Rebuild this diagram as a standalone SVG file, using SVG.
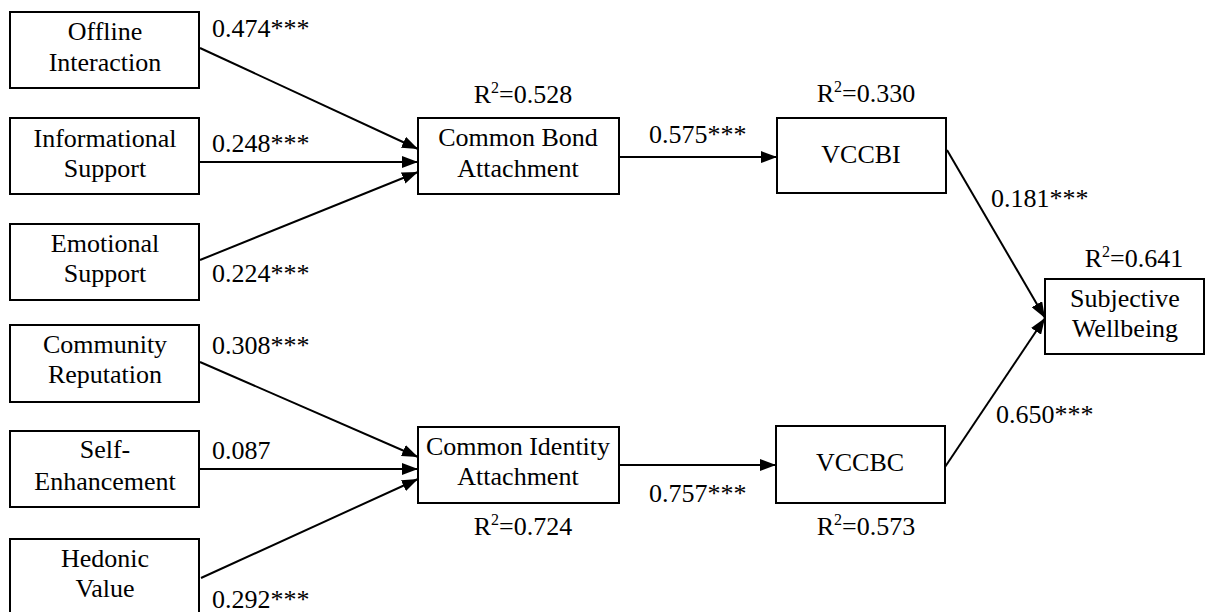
<svg xmlns="http://www.w3.org/2000/svg" width="1206" height="612" viewBox="0 0 1206 612">
<style>
text{font-family:"Liberation Serif","Times New Roman",serif;font-size:26px;fill:#000}
.c{text-anchor:middle}
.sup{font-size:16px}
rect{fill:#fff;stroke:#000;stroke-width:2}
.e{stroke:#000;stroke-width:2;fill:none;marker-end:url(#ah)}
</style>
<defs>
<marker id="ah" viewBox="0 0 16 12" refX="16" refY="6" markerWidth="16" markerHeight="12" markerUnits="userSpaceOnUse" orient="auto">
<path d="M0,0 L16,6 L0,12 Z" fill="#000"/>
</marker>
</defs>
<rect x="0" y="0" width="1206" height="612" style="stroke:none"/>
<g id="connectors">
<line class="e" x1="200" y1="48" x2="418" y2="149"/>
<line class="e" x1="199" y1="162" x2="418" y2="162"/>
<line class="e" x1="200" y1="260" x2="418" y2="172"/>
<line class="e" x1="200" y1="362" x2="418" y2="457"/>
<line class="e" x1="199" y1="469" x2="418" y2="469"/>
<line class="e" x1="201" y1="578" x2="418" y2="479"/>
<line class="e" x1="619" y1="157" x2="777" y2="157"/>
<line class="e" x1="619" y1="465" x2="776" y2="465"/>
<line class="e" x1="947" y1="150" x2="1045" y2="318"/>
<line class="e" x1="945" y1="467" x2="1045" y2="318"/>
<text x="212" y="37">0.474***</text>
<text x="212" y="152">0.248***</text>
<text x="212" y="282">0.224***</text>
<text x="212" y="354">0.308***</text>
<text x="212" y="459">0.087</text>
<text x="212" y="608">0.292***</text>
<text x="649" y="143">0.575***</text>
<text x="649" y="502">0.757***</text>
<text x="991" y="207">0.181***</text>
<text x="996" y="423">0.650***</text>
</g>
<g id="offline">
<rect x="10" y="12" width="189" height="76"/>
<text class="c" x="105" y="40">Offline</text>
<text class="c" x="105" y="71">Interaction</text>
</g>
<g id="informational">
<rect x="10" y="118" width="189" height="76"/>
<text class="c" x="105" y="147">Informational</text>
<text class="c" x="105" y="177">Support</text>
</g>
<g id="emotional">
<rect x="10" y="224" width="189" height="76"/>
<text class="c" x="105" y="252">Emotional</text>
<text class="c" x="105" y="282">Support</text>
</g>
<g id="community">
<rect x="10" y="325" width="189" height="77"/>
<text class="c" x="105" y="353">Community</text>
<text class="c" x="105" y="383">Reputation</text>
</g>
<g id="self">
<rect x="10" y="431" width="189" height="76"/>
<text class="c" x="105" y="458">Self-</text>
<text class="c" x="105" y="490">Enhancement</text>
</g>
<g id="hedonic">
<rect x="10" y="539" width="189" height="76"/>
<text class="c" x="105" y="567">Hedonic</text>
<text class="c" x="105" y="597">Value</text>
</g>
<g id="cba">
<rect x="418" y="118" width="201" height="76"/>
<text class="c" x="518" y="146">Common Bond</text>
<text class="c" x="518" y="177">Attachment</text>
<text class="c" x="523" y="103">R<tspan class="sup" dy="-10">2</tspan><tspan dy="10">=0.528</tspan></text>
</g>
<g id="cia">
<rect x="418" y="427" width="201" height="76"/>
<text class="c" x="518" y="455">Common Identity</text>
<text class="c" x="518" y="485">Attachment</text>
<text class="c" x="523" y="535">R<tspan class="sup" dy="-10">2</tspan><tspan dy="10">=0.724</tspan></text>
</g>
<g id="vccbi">
<rect x="777" y="118" width="169" height="75"/>
<text class="c" x="861" y="163">VCCBI</text>
<text class="c" x="866" y="102">R<tspan class="sup" dy="-10">2</tspan><tspan dy="10">=0.330</tspan></text>
</g>
<g id="vccbc">
<rect x="776" y="426" width="169" height="77"/>
<text class="c" x="860" y="471">VCCBC</text>
<text class="c" x="866" y="535">R<tspan class="sup" dy="-10">2</tspan><tspan dy="10">=0.573</tspan></text>
</g>
<g id="swb">
<rect x="1045" y="279" width="159" height="75"/>
<text class="c" x="1125" y="307">Subjective</text>
<text class="c" x="1125" y="337">Wellbeing</text>
<text class="c" x="1134" y="267">R<tspan class="sup" dy="-10">2</tspan><tspan dy="10">=0.641</tspan></text>
</g>
</svg>
